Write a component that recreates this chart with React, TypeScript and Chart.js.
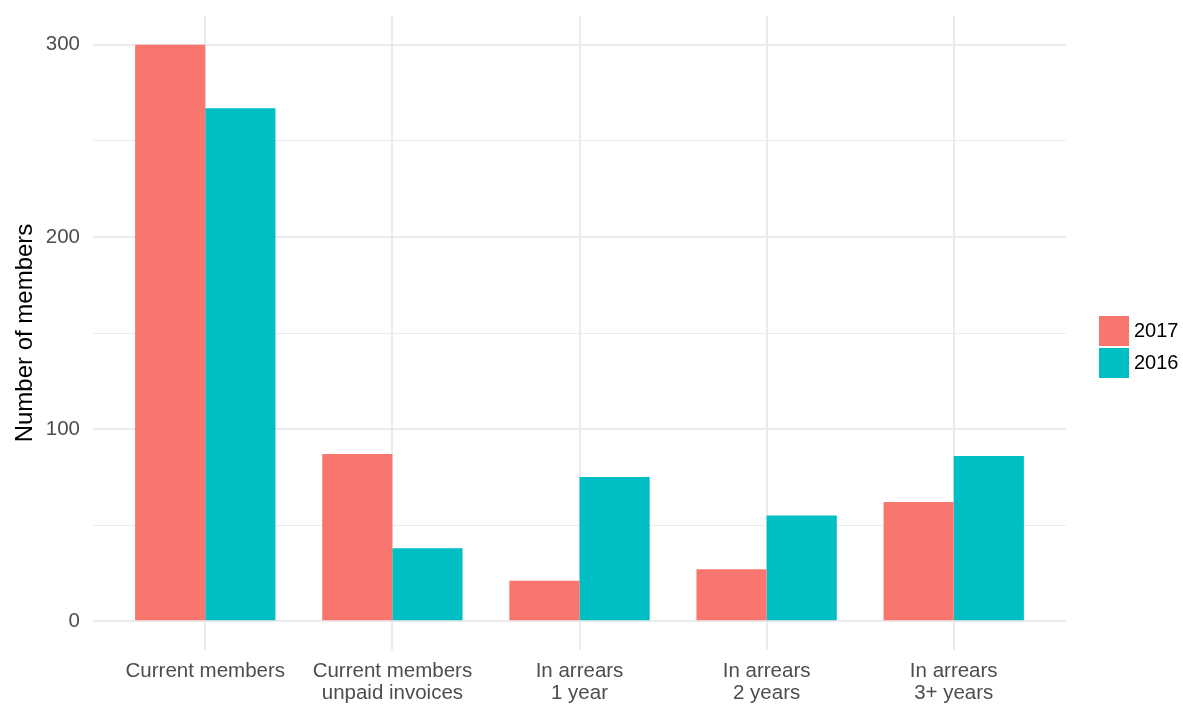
import React, { useEffect, useRef } from "react";
import { Chart, registerables } from "chart.js";

Chart.register(...registerables);

const categories: string[][] = [
  ["Current members"],
  ["Current members", "unpaid invoices"],
  ["In arrears", "1 year"],
  ["In arrears", "2 years"],
  ["In arrears", "3+ years"],
];
const series2017: number[] = [300, 87, 21, 27, 62];
const series2016: number[] = [267, 38, 75, 55, 86];
const seriesNames: string[] = ["2017", "2016"];
const seriesColors: string[] = ["#F8766D", "#00BFC4"];
const yTicks: number[] = [0, 50, 100, 150, 200, 250, 300];
const yLabelTicks: number[] = [0, 100, 200, 300];

const FONT = "'Liberation Sans', Arial, sans-serif";

export default function App() {
  const ref = useRef<HTMLCanvasElement | null>(null);

  useEffect(() => {
    document.body.style.margin = "0";
    const canvas = ref.current;
    if (!canvas) return;
    const toPoints = (vals: number[]) => vals.map((v, i) => ({ x: i, y: v }));
    const chart = new Chart(canvas, {
      type: "bar",
      data: {
        datasets: [
          {
            label: seriesNames[0],
            data: toPoints(series2017),
            backgroundColor: seriesColors[0],
            borderWidth: 0,
          },
          {
            label: seriesNames[1],
            data: toPoints(series2016),
            backgroundColor: seriesColors[1],
            borderWidth: 0,
          },
        ],
      },
      options: {
        animation: false,
        responsive: false,
        devicePixelRatio: 1,
        categoryPercentage: 0.75,
        barPercentage: 1,
        layout: { padding: { top: 16, right: 117, left: 0, bottom: 0 } },
        plugins: {
          legend: { display: false },
          tooltip: { enabled: false },
        },
        scales: {
          x: {
            type: "linear",
            min: -0.6,
            max: 4.6,
            offset: false,
            afterBuildTicks: (scale: any) => {
              scale.ticks = categories.map((_, i) => ({ value: i }));
            },
            afterFit: (scale: any) => {
              scale.height = 54;
              scale.paddingLeft = 0;
              scale.paddingRight = 0;
            },
            grid: {
              offset: false,
              color: "#EBEBEB",
              lineWidth: 2,
              drawTicks: false,
              tickLength: 0,
            },
            border: { display: false },
            ticks: {
              padding: 10,
              color: "#4D4D4D",
              font: { family: FONT, size: 20.5, lineHeight: 1.1 },
              maxRotation: 0,
              autoSkip: false,
              callback: (value: any) => categories[Number(value)] ?? "",
            },
          },
          y: {
            type: "linear",
            min: -15,
            max: 315,
            afterBuildTicks: (scale: any) => {
              scale.ticks = yTicks.map((v) => ({ value: v }));
            },
            afterFit: (scale: any) => {
              scale.width = 93;
              scale.paddingTop = 0;
              scale.paddingBottom = 0;
            },
            grid: {
              color: "#EBEBEB",
              lineWidth: (ctx: any) =>
                ctx.tick && yLabelTicks.includes(ctx.tick.value) ? 2 : 1,
              drawTicks: false,
              tickLength: 0,
            },
            border: { display: false },
            ticks: {
              padding: 13,
              color: "#4D4D4D",
              font: { family: FONT, size: 20.5 },
              autoSkip: false,
              callback: (value: any) =>
                yLabelTicks.includes(Number(value)) ? String(value) : "",
            },
            title: {
              display: true,
              text: "Number of members",
              color: "#000000",
              font: { family: FONT, size: 24, lineHeight: 1 },
              padding: { top: 13, bottom: 0 },
            },
          },
        },
      },
    });
    return () => chart.destroy();
  }, []);

  return (
    <div style={{ position: "relative", width: 1183, height: 704 }}>
      <canvas ref={ref} width={1183} height={704} style={{ display: "block" }} />
      {seriesNames.map((name, i) => (
        <div
          key={name}
          style={{
            position: "absolute",
            left: 1099,
            top: 315 + i * 32,
            height: 31,
            display: "flex",
            alignItems: "center",
            fontFamily: FONT,
            fontSize: 20,
            color: "#000",
          }}
        >
          <div style={{ width: 30, height: 30, background: seriesColors[i], marginRight: 5 }} />
          <span>{name}</span>
        </div>
      ))}
    </div>
  );
}
